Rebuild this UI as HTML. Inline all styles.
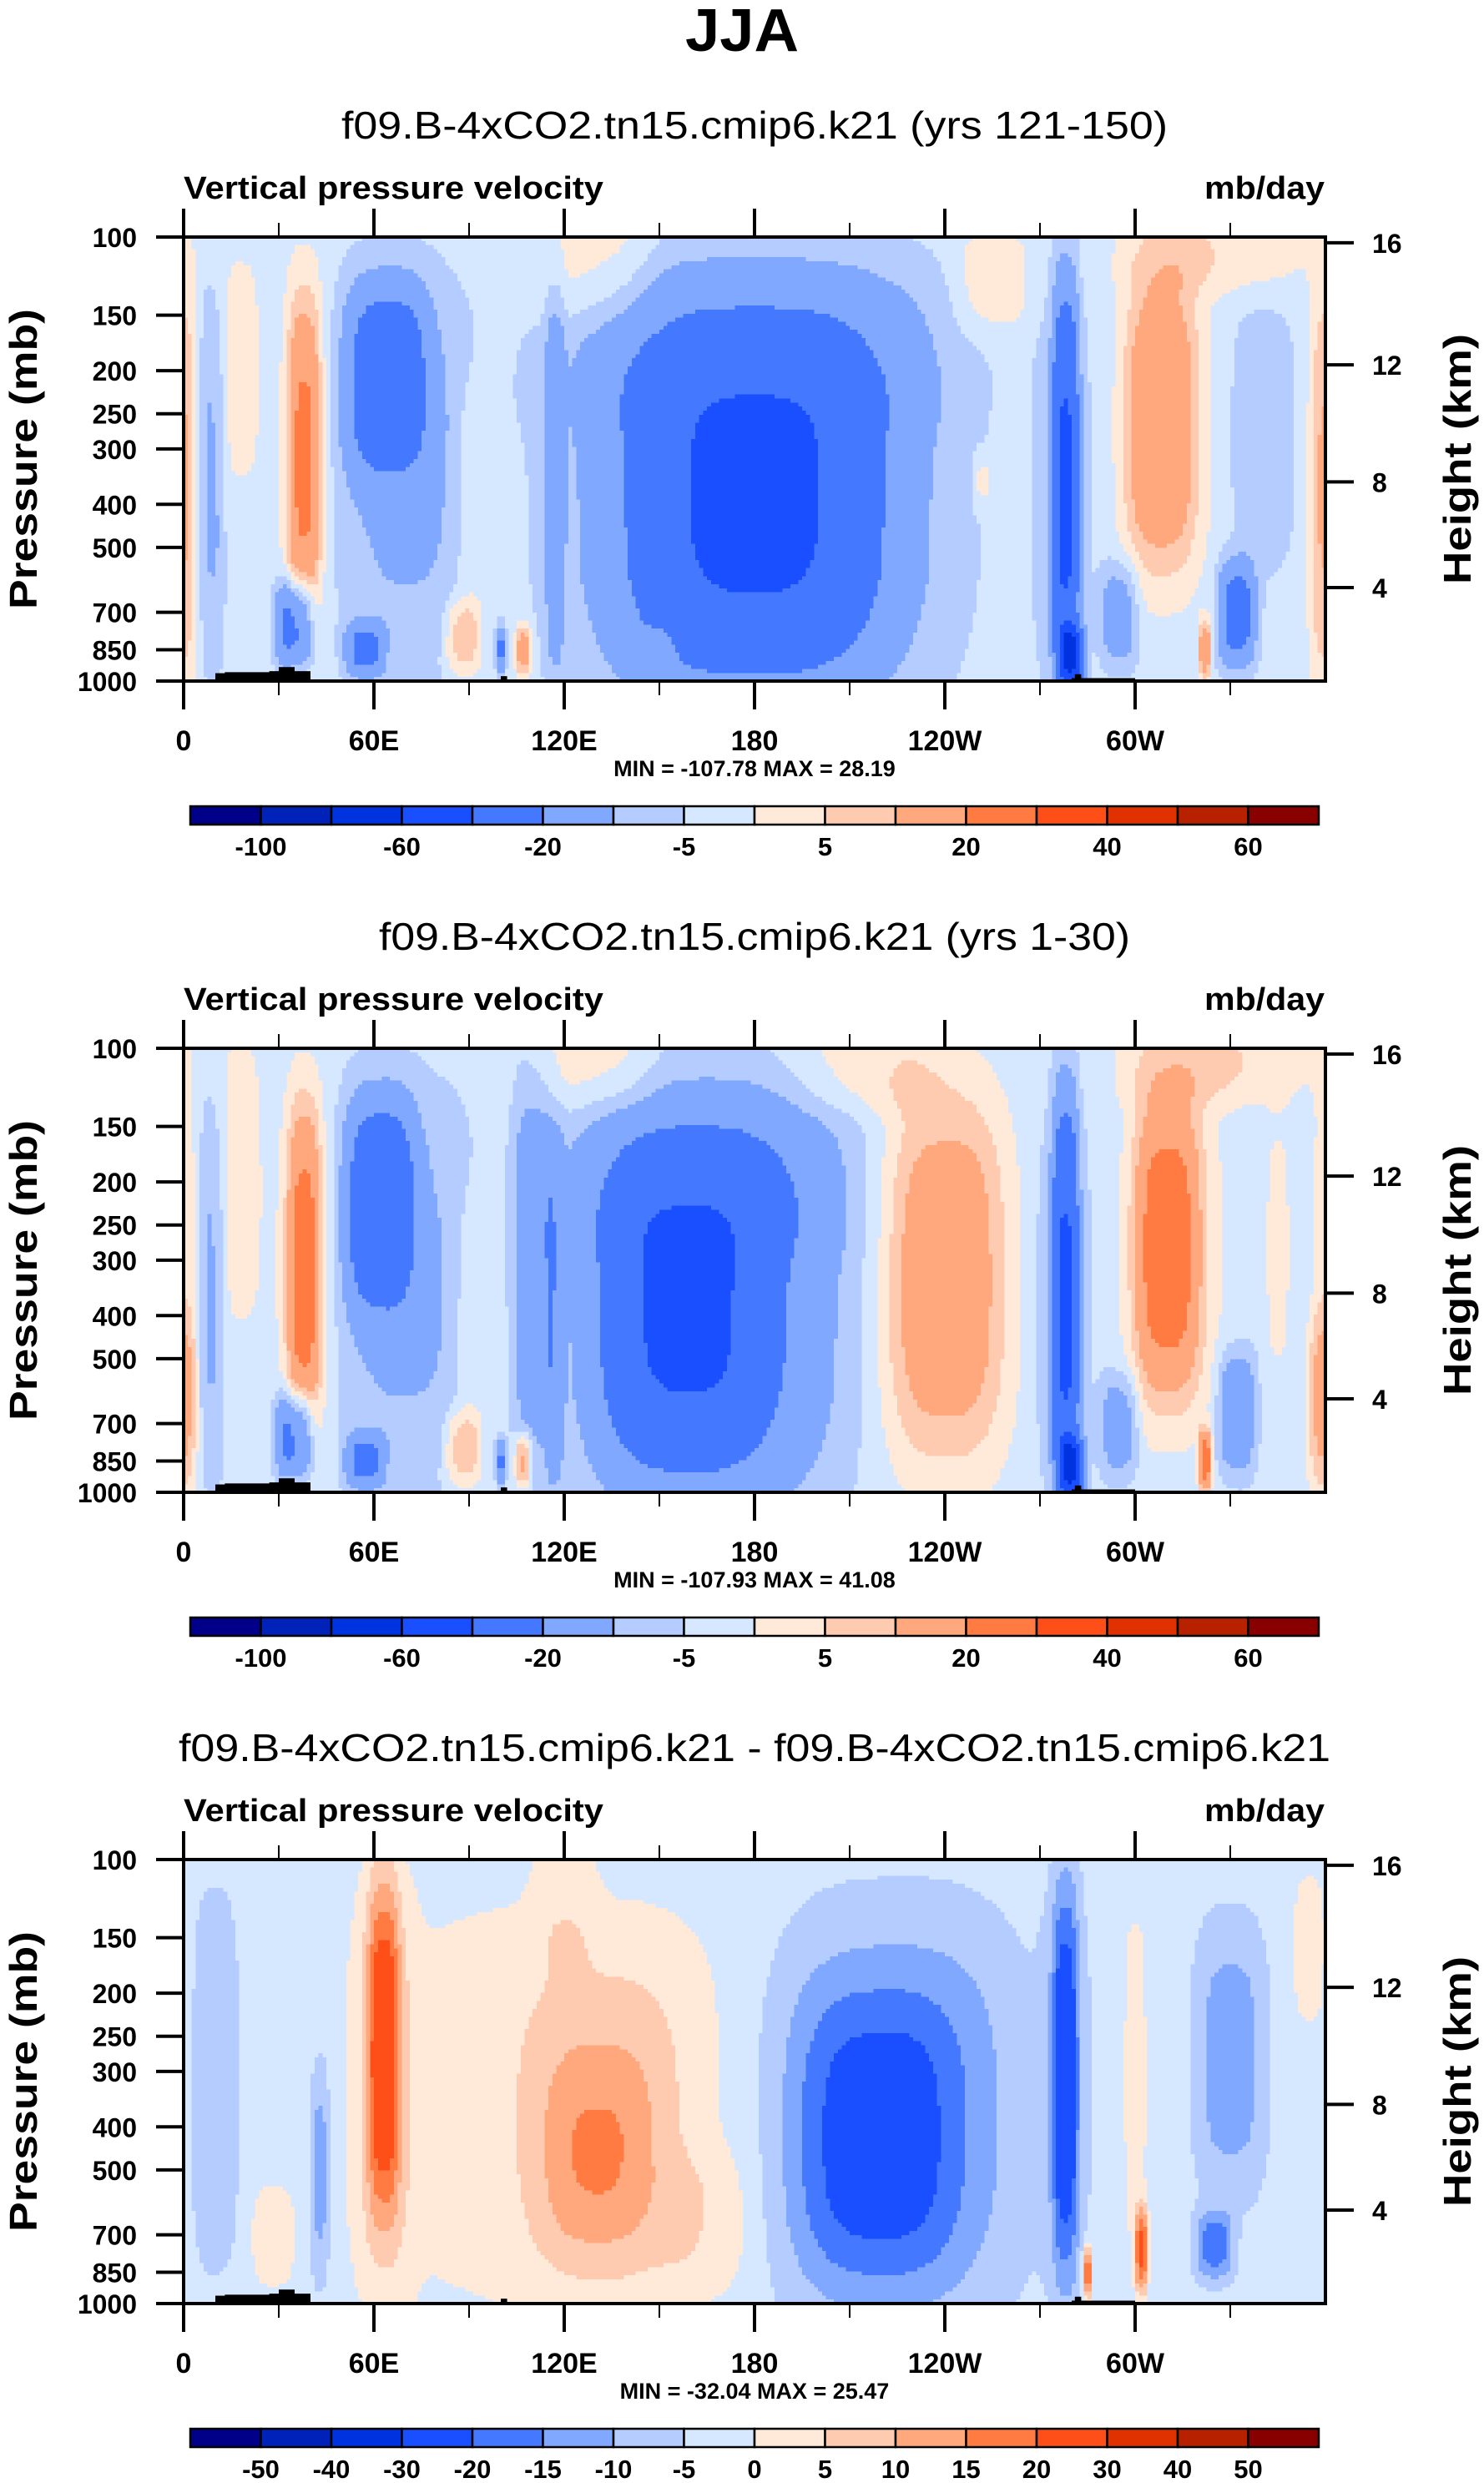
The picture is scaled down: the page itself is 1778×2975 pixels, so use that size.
<!DOCTYPE html>
<html><head><meta charset="utf-8"><title>JJA Vertical pressure velocity</title>
<style>
html,body{margin:0;padding:0;background:#fff;}
svg{display:block;}
text{font-family:"Liberation Sans",Arial,sans-serif;fill:#000;}
</style></head>
<body>
<svg id="fig" xmlns="http://www.w3.org/2000/svg" width="1778" height="2975" viewBox="0 0 1778 2975">
<text x="889" y="61" text-anchor="middle" font-size="72" font-weight="bold" textLength="136" lengthAdjust="spacingAndGlyphs">JJA</text>
</svg>
<script>
// ---- shared chart data ----
var colors = ["#000088","#0022b8","#0033e0","#1a4fff","#4479ff","#80a8ff","#b4ccff","#d6e8ff","#ffe9d8","#ffcbb0","#ffa87e","#ff7b42","#ff4f18","#e03200","#b82100","#880000"];
var levelsAbs = [-100,-80,-60,-40,-20,-10,-5,0,5,10,20,30,40,50,60];
var levelsDiff = [-50,-40,-30,-20,-15,-10,-5,0,5,10,15,20,30,40,50];
var cbLabelsAbs = ["-100","","-60","","-20","","-5","","5","","20","","40","","60"];
var cbLabelsDiff = ["-50","-40","-30","-20","-15","-10","-5","0","5","10","15","20","30","40","50"];
var lonTicks = [0,60,120,180,240,300];
var lonLabels = ["0","60E","120E","180","120W","60W"];
var lonMinor = [30,90,150,210,270,330];
var presTicks = [100,150,200,250,300,400,500,700,850,1000];
var heightTicks = [16,12,8,4];
var heightPres = [103,194,356,616];
var subtitles = ["f09.B-4xCO2.tn15.cmip6.k21 (yrs 121-150)","f09.B-4xCO2.tn15.cmip6.k21 (yrs 1-30)","f09.B-4xCO2.tn15.cmip6.k21 - f09.B-4xCO2.tn15.cmip6.k21"];
var subtitleWidths = [990, 900, 1380];
var minMax = ["MIN = -107.78  MAX =  28.19","MIN = -107.93  MAX =  41.08","MIN = -32.04  MAX =  25.47"];
var backgrounds = [-3,-3,-3];
// blobs: [lon, zfrac, lonWidth, zWidth, amplitude]
var blobs1 = [
 [0,0.5,4,0.5,6],[359,0.6,5,0.45,8],[18,0.3,7,0.3,5],[9,0.55,4,0.42,-8],
 [38,0.5,5,0.36,20],[38,0.5,8,0.42,6],[64,0.32,13,0.22,-22],[70,0.55,22,0.45,-8],
 [35,0.87,6,0.1,-25],[57,0.93,6,0.06,-18],[88,0.9,6,0.09,12],[90,0.6,5,0.3,4],
 [117,0.55,3,0.45,-10],[107,0.93,2.5,0.06,18],[100,0.93,1.5,0.05,-18],
 [180,0.58,54,0.47,-20],[180,0.62,34,0.34,-22],[180,0.25,60,0.2,-6],
 [255,0.1,12,0.12,7],[252,0.55,3,0.06,6],[278,0.58,4,0.45,-35],[277,0.58,9,0.45,-6],[280,0.94,4,0.06,-50],
 [308,0.42,11,0.32,18],[310,0.42,16,0.4,5],[332,0.85,6,0.12,-22],[340,0.45,11,0.32,-5],[322,0.93,2,0.07,18],
 [295,0.85,6,0.12,-12],[130,0.05,18,0.15,7],[325,0.03,30,0.1,7],[150,0.93,5,0.05,6]
];
var blobs2 = [
 [0,0.5,4,0.5,6],[359,0.8,5,0.2,12],[18,0.3,7,0.35,6],[9,0.55,4,0.42,-8],
 [38,0.5,5,0.36,22],[38,0.5,9,0.42,7],[62,0.35,11,0.24,-24],[70,0.55,22,0.45,-8],
 [35,0.87,6,0.1,-25],[57,0.93,6,0.06,-18],[88,0.9,6,0.09,12],[90,0.6,5,0.3,4],
 [110,0.5,6,0.42,-12],[117,0.6,3,0.4,-10],[107,0.93,2.5,0.06,18],[100,0.93,1.5,0.05,-18],
 [165,0.58,42,0.47,-18],[158,0.6,24,0.32,-24],[165,0.28,48,0.2,-6],
 [240,0.52,18,0.4,15],[240,0.52,24,0.46,5],[278,0.58,4,0.45,-35],[277,0.58,9,0.45,-6],[280,0.94,4,0.06,-50],
 [310,0.45,10,0.32,24],[312,0.45,16,0.42,7],[332,0.82,6,0.14,-15],[322,0.93,2,0.07,28],
 [295,0.85,6,0.12,-12],[130,0.03,18,0.12,7],[325,0.03,30,0.1,8],[215,0.05,25,0.1,6],[345,0.45,4,0.3,5]
];
var blobs3 = [
 [63,0.42,5,0.38,20],[63,0.5,10,0.5,7],[120,0.55,66,0.5,6],[132,0.62,24,0.36,8],
 [130,0.68,16,0.2,5],[165,0.82,15,0.16,4],[120,0.1,10,0.15,4],[222,0.58,40,0.44,-13],
 [218,0.65,24,0.32,-9],[278,0.5,4,0.45,-18],[278,0.5,8,0.45,-5],[330,0.45,11,0.3,-10],[325,0.87,6,0.08,-14],
 [10,0.5,8,0.45,-5],[43,0.7,3,0.25,-10],[28,0.85,7,0.12,6],[285,0.93,1.5,0.06,22],
 [302,0.88,2,0.1,22],[300,0.5,4,0.45,5],[355,0.2,6,0.2,5]
];
// topography: [lonStart, lonEnd, pressureTop]
var topo = [[10,30,960],[13,28,955],[27,40,950],[30,35,930],[100,102,975],[281,283,965],[280,300,985]];

var panels = [
 {blobs:blobs1, levels:levelsAbs, cb:cbLabelsAbs},
 {blobs:blobs2, levels:levelsAbs, cb:cbLabelsAbs},
 {blobs:blobs3, levels:levelsDiff, cb:cbLabelsDiff}
];

var NS = "http://www.w3.org/2000/svg";
var svg = document.getElementById("fig");
var X0 = 220, XW = 1368, PH = 532;
function xOf(lon){ return X0 + lon/360*XW; }
function zOf(p){ return Math.log(p/100)/Math.log(10); }
function mk(tag, attrs, parent){
  var e = document.createElementNS(NS, tag);
  for (var k in attrs) e.setAttribute(k, attrs[k]);
  (parent||svg).appendChild(e); return e;
}
function txt(s, attrs, parent){ var e = mk("text", attrs, parent); e.textContent = s; return e; }

panels.forEach(function(P, k){
  var T = 284 + k*972;
  function yOfZ(z){ return T + z*PH; }
  function yOfP(p){ return yOfZ(zOf(p)); }
  var g = mk("g", {});
  
  

  var st = txt(subtitles[k], {x:904, y:T-118, "text-anchor":"middle", "font-size":"46", textLength:subtitleWidths[k], lengthAdjust:"spacingAndGlyphs"}, g);
  
  
  var lt = txt("Vertical pressure velocity", {x:220, y:T-46, "font-size":"38", "font-weight":"bold", textLength:503, lengthAdjust:"spacingAndGlyphs"}, g);
  
  
  var ut = txt("mb/day", {x:1587, y:T-46, "text-anchor":"end", "font-size":"38", "font-weight":"bold", textLength:144, lengthAdjust:"spacingAndGlyphs"}, g);
  
  

  // field
  var fg = mk("g", {"shape-rendering":"crispEdges"}, g);
  
  
  var NL = 288, NZ = 110, dl = 360/NL, dz = 1/NZ;
  function val(lon, z){
    var v = backgrounds[k];
    for (var i=0;i<P.blobs.length;i++){
      var b = P.blobs[i];
      var dx = lon-b[0]; if (dx>180) dx-=360; if (dx<-180) dx+=360;
      var a = Math.abs(dx/b[2]), c = Math.abs((z-b[1])/b[3]);
      v += b[4]*Math.exp(-(a*a*a) - (c*c*c));
    }
    return v;
  }
  function lev(v){ var i=0; while(i<P.levels.length && v>=P.levels[i]) i++; return i; }
  for (var j=0;j<NZ;j++){
    var z = (j+0.5)*dz, start=0, cur=lev(val(0.5*dl,z));
    for (var i=1;i<=NL;i++){
      var L = i<NL ? lev(val((i+0.5)*dl,z)) : -1;
      if (L!==cur){
        var r = mk("rect", {x:xOf(start*dl).toFixed(1), y:yOfZ(j*dz).toFixed(1), width:(xOf(i*dl)-xOf(start*dl)+0.6).toFixed(1), height:(PH*dz+0.6).toFixed(1), fill:colors[cur]}, fg);
        
        
        start=i; cur=L;
      }
    }
  }
  // topography
  topo.forEach(function(t){
    var r = mk("rect", {x:xOf(t[0]), y:yOfP(t[2]), width:xOf(t[1])-xOf(t[0]), height:yOfP(1000)-yOfP(t[2]), fill:"#000"}, g);
    
    
  });
  // frame
  var fr = mk("rect", {x:X0, y:T, width:XW, height:PH, fill:"none", stroke:"#000", "stroke-width":"4"}, g);
  
  
  lonTicks.forEach(function(lon, i){
    var x = xOf(lon);
    mk("line", {x1:x, x2:x, y1:T, y2:T-34, stroke:"#000", "stroke-width":"4"}, g);
    mk("line", {x1:x, x2:x, y1:T+PH, y2:T+PH+34, stroke:"#000", "stroke-width":"4"}, g);
    var tl = txt(lonLabels[i], {x:x, y:T+PH+83, "text-anchor":"middle", "font-size":"34", "font-weight":"bold"}, g);
    
    
  });
  lonMinor.forEach(function(lon){
    var x = xOf(lon);
    mk("line", {x1:x, x2:x, y1:T, y2:T-17, stroke:"#000", "stroke-width":"2"}, g);
    mk("line", {x1:x, x2:x, y1:T+PH, y2:T+PH+17, stroke:"#000", "stroke-width":"2"}, g);
  });
  presTicks.forEach(function(p){
    var y = yOfP(p);
    mk("line", {x1:X0-33, x2:X0, y1:y, y2:y, stroke:"#000", "stroke-width":"4"}, g);
    var pl = txt(String(p), {x:164, y:y+12, "text-anchor":"end", "font-size":"32", "font-weight":"bold"}, g);
    
    
  });
  heightTicks.forEach(function(h, i){
    var y = yOfP(heightPres[i]);
    mk("line", {x1:X0+XW, x2:X0+XW+34, y1:y, y2:y, stroke:"#000", "stroke-width":"4"}, g);
    var hl = txt(String(h), {x:1644, y:y+12, "font-size":"32", "font-weight":"bold"}, g);
    
    
  });
  var ya = txt("Pressure (mb)", {x:0, y:0, "text-anchor":"middle", "font-size":"46", "font-weight":"bold", transform:"translate(44,"+(T+266)+") rotate(-90)", textLength:360, lengthAdjust:"spacingAndGlyphs"}, g);
  
  
  var yb = txt("Height (km)", {x:0, y:0, "text-anchor":"middle", "font-size":"46", "font-weight":"bold", transform:"translate(1762,"+(T+266)+") rotate(-90)", textLength:300, lengthAdjust:"spacingAndGlyphs"}, g);
  
  
  var mm = txt(minMax[k], {x:904, y:T+PH+114, "text-anchor":"middle", "font-size":"27", "font-weight":"bold", "xml:space":"preserve"}, g);
  
  
  // colorbar
  var cy = T+682, cx0 = 228, cw = (1580-228)/16;
  var cbg = mk("g", {}, g);
  
  
  colors.forEach(function(c, i){
    var r = mk("rect", {x:cx0+i*cw, y:cy, width:cw, height:22, fill:c, stroke:"#000", "stroke-width":"2.5"}, cbg);
    
    
  });
  P.cb.forEach(function(s, i){
    if (!s) return;
    var cl = txt(s, {x:cx0+(i+1)*cw, y:cy+59, "text-anchor":"middle", "font-size":"31", "font-weight":"bold"}, cbg);
    
    
  });
});
</script>
</body></html>
